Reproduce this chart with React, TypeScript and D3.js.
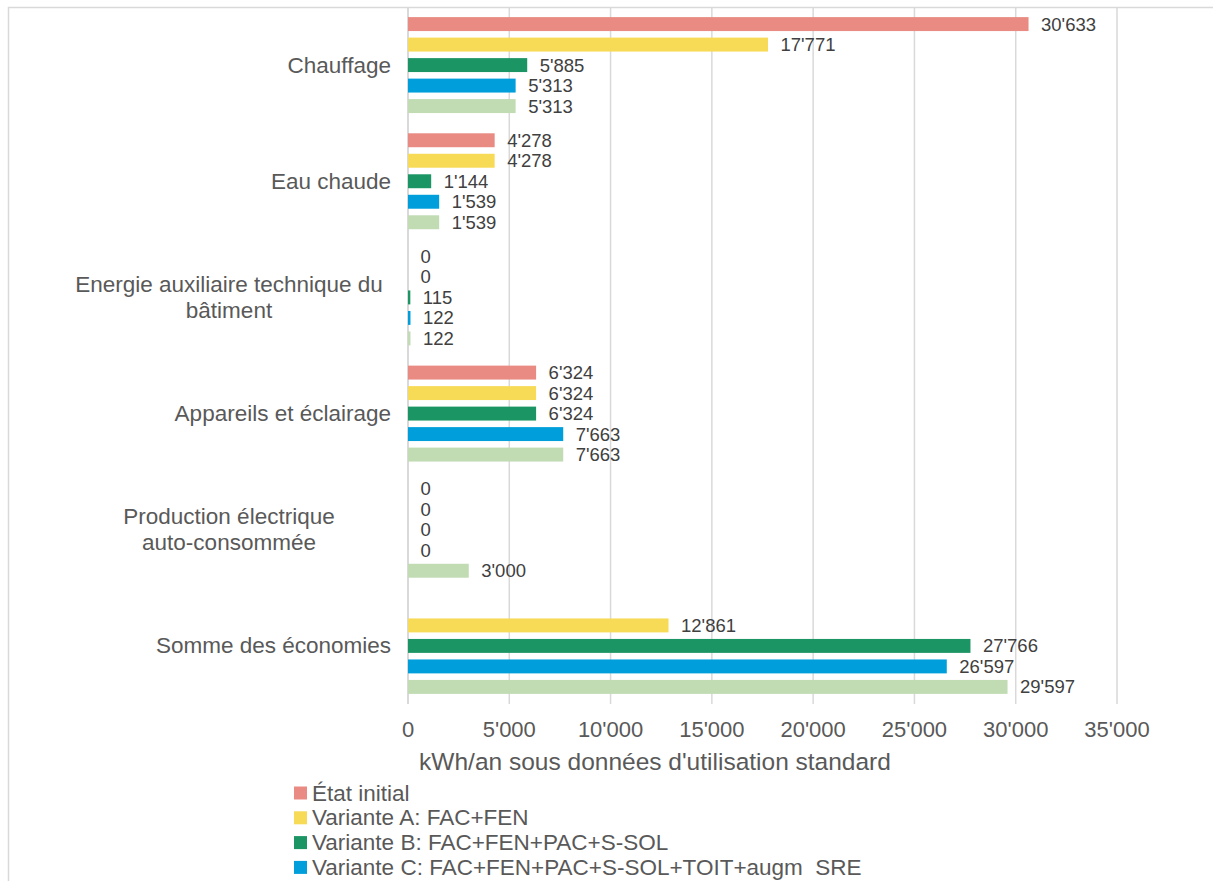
import React from "react";
import * as d3 from "d3";

const categories = [
  "Chauffage",
  "Eau chaude",
  "Energie auxiliaire technique du bâtiment",
  "Appareils et éclairage",
  "Production électrique auto-consommée",
  "Somme des économies",
];
const categoryLines = [
  ["Chauffage"],
  ["Eau chaude"],
  ["Energie auxiliaire technique du", "bâtiment"],
  ["Appareils et éclairage"],
  ["Production électrique", "auto-consommée"],
  ["Somme des économies"],
];
const seriesNames = [
  "État initial",
  "Variante A: FAC+FEN",
  "Variante B: FAC+FEN+PAC+S-SOL",
  "Variante C: FAC+FEN+PAC+S-SOL+TOIT+augm\u00A0 SRE",
  "Variante D",
];
const seriesColors = ["#E98B83", "#F7DB57", "#1B9563", "#009FDB", "#C1DCB3"];
// values per category, per series (null = no bar)
const etatInitial: (number | null)[] = [30633, 4278, 0, 6324, 0, null];
const varianteA: (number | null)[] = [17771, 4278, 0, 6324, 0, 12861];
const varianteB: (number | null)[] = [5885, 1144, 115, 6324, 0, 27766];
const varianteC: (number | null)[] = [5313, 1539, 122, 7663, 0, 26597];
const varianteD: (number | null)[] = [5313, 1539, 122, 7663, 3000, 29597];
const seriesValues = [etatInitial, varianteA, varianteB, varianteC, varianteD];
const xTicks = [0, 5000, 10000, 15000, 20000, 25000, 30000, 35000];
const axisTitle = "kWh/an sous données d'utilisation standard";

const W = 1213;
const H = 881;
const FONT = "'Liberation Sans', Arial, sans-serif";

const locale = d3.formatLocale({
  decimal: ".",
  thousands: "'",
  grouping: [3],
  currency: ["", ""],
});
const fmt = locale.format(",d");

export default function App() {
  const x = d3.scaleLinear().domain([0, 35000]).range([408, 1117]);
  const y = d3.scaleBand<string>().domain(categories).range([7, 704]).padding(0);
  const groupH = 102.5;
  const inner = d3
    .scaleBand<number>()
    .domain(d3.range(seriesNames.length))
    .range([0, groupH])
    .paddingInner(0.32)
    .paddingOuter(0.16);

  const legendY0 = 793;
  const legendStep = 24.8;

  return (
    <svg
      width={W}
      height={H}
      style={{ position: "absolute", left: 0, top: 0, background: "#fff" }}
      fontFamily={FONT}
    >
      <rect x={0} y={0} width={W} height={H} fill="#fff" />
      {/* chart border */}
      <line x1={8.5} y1={7} x2={8.5} y2={H} stroke="#D9D9D9" strokeWidth={1.5} />
      <line x1={8} y1={7.5} x2={W} y2={7.5} stroke="#D9D9D9" strokeWidth={1.5} />

      {/* gridlines */}
      {xTicks.map((t) => (
        <line
          key={"g" + t}
          x1={x(t)}
          x2={x(t)}
          y1={7}
          y2={704}
          stroke="#D9D9D9"
          strokeWidth={t === 0 ? 2 : 1.5}
        />
      ))}

      {/* bars and labels */}
      {categories.map((c, ci) => {
        const bandTop = (y(c) as number) + (y.bandwidth() - groupH) / 2;
        return (
          <g key={c}>
            {seriesValues.map((vals, si) => {
              const v = vals[ci];
              if (v === null) return null;
              const by = bandTop + (inner(si) as number);
              const bh = inner.bandwidth();
              return (
                <g key={si}>
                  {v > 0 && (
                    <rect
                      x={x(0)}
                      y={by}
                      width={x(v) - x(0)}
                      height={bh}
                      fill={seriesColors[si]}
                    />
                  )}
                  <text
                    x={x(v) + 12.5}
                    y={by + bh / 2}
                    dominantBaseline="central"
                    fontSize={18.5}
                    fill="#404040"
                  >
                    {fmt(v)}
                  </text>
                </g>
              );
            })}
            {/* category label */}
            {categoryLines[ci].length === 1 ? (
              <text
                x={391}
                y={(y(c) as number) + y.bandwidth() / 2}
                textAnchor="end"
                dominantBaseline="central"
                fontSize={22.5}
                fill="#595959"
              >
                {categoryLines[ci][0]}
              </text>
            ) : (
              categoryLines[ci].map((ln, li) => (
                <text
                  key={li}
                  x={229}
                  y={
                    (y(c) as number) +
                    y.bandwidth() / 2 +
                    (li - (categoryLines[ci].length - 1) / 2) * 26
                  }
                  textAnchor="middle"
                  dominantBaseline="central"
                  fontSize={22.5}
                  fill="#595959"
                >
                  {ln}
                </text>
              ))
            )}
          </g>
        );
      })}

      {/* tick labels */}
      {xTicks.map((t) => (
        <text
          key={"t" + t}
          x={x(t)}
          y={729.5}
          textAnchor="middle"
          dominantBaseline="central"
          fontSize={22}
          fill="#595959"
        >
          {fmt(t)}
        </text>
      ))}

      {/* axis title */}
      <text
        x={655}
        y={761}
        textAnchor="middle"
        dominantBaseline="central"
        fontSize={24.5}
        fill="#595959"
      >
        {axisTitle}
      </text>

      {/* legend */}
      {seriesNames.map((n, i) => {
        const cy = legendY0 + i * legendStep;
        if (cy + 8 > H) return null;
        return (
          <g key={n}>
            <rect x={294} y={cy - 6.5} width={13} height={13} fill={seriesColors[i]} />
            <text
              x={312}
              y={cy}
              dominantBaseline="central"
              fontSize={22.5}
              fill="#595959"
            >
              {n}
            </text>
          </g>
        );
      })}
    </svg>
  );
}
